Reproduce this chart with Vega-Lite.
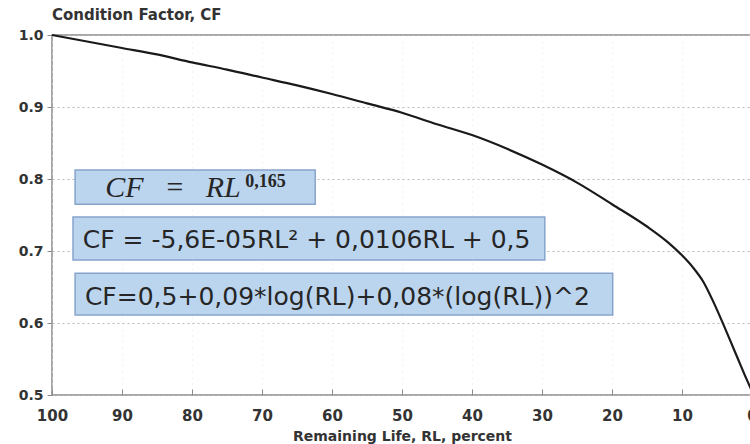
{
  "$schema": "https://vega.github.io/schema/vega-lite/v6.json",
  "width": 700,
  "height": 360,
  "autosize": "none",
  "padding": {"left": 52, "top": 35, "right": 0, "bottom": 49},
  "background": "white",
  "title": {"text": "Condition Factor, CF", "anchor": "start", "frame": "group", "font": "DejaVu Sans", "fontSize": 15, "fontWeight": "bold", "color": "#333333", "offset": 5},
  "config": {
    "view": {"stroke": "#8a8a8a", "strokeWidth": 1.5},
    "axis": {"domain": false, "labelFont": "DejaVu Sans", "labelFontWeight": "bold", "labelColor": "#333333", "titleFont": "DejaVu Sans", "titleFontWeight": "bold", "titleColor": "#333333", "tickColor": "#8a8a8a", "labelFlush": false}
  },
  "datasets": {
    "curve": [
      {"rl": 100, "cf": 1.0}, {"rl": 95, "cf": 0.991}, {"rl": 90, "cf": 0.982}, {"rl": 85, "cf": 0.973},
      {"rl": 80, "cf": 0.962}, {"rl": 75, "cf": 0.952}, {"rl": 70, "cf": 0.941}, {"rl": 65, "cf": 0.930},
      {"rl": 60, "cf": 0.918}, {"rl": 55, "cf": 0.905}, {"rl": 50, "cf": 0.892}, {"rl": 45, "cf": 0.876},
      {"rl": 40, "cf": 0.861}, {"rl": 35, "cf": 0.842}, {"rl": 30, "cf": 0.820}, {"rl": 25, "cf": 0.795},
      {"rl": 20, "cf": 0.765}, {"rl": 15, "cf": 0.734}, {"rl": 12, "cf": 0.712}, {"rl": 10, "cf": 0.694},
      {"rl": 8.5, "cf": 0.678}, {"rl": 7, "cf": 0.658}, {"rl": 5.5, "cf": 0.629}, {"rl": 4, "cf": 0.596},
      {"rl": 3, "cf": 0.573}, {"rl": 2, "cf": 0.550}, {"rl": 1, "cf": 0.527}, {"rl": 0, "cf": 0.505}
    ],
    "boxes": [
      {"rl": 96.7, "rl2": 62.4, "cf": 0.8125, "cf2": 0.765},
      {"rl": 97.0, "rl2": 29.6, "cf": 0.7472, "cf2": 0.6875},
      {"rl": 96.7, "rl2": 19.9, "cf": 0.669, "cf2": 0.611}
    ],
    "eq1": [{"rl": 92.4, "cf": 0.775, "label": "CF\u2002\u2009=\u2002\u2009RL"}],
    "eq1sup": [{"rl": 72.4, "cf": 0.789, "label": "0,165"}],
    "eq2": [{"rl": 95.6, "cf": 0.7042, "label": "CF = -5,6E-05RL\u00b2 + 0,0106RL + 0,5"}],
    "eq3": [{"rl": 95.3, "cf": 0.625, "label": "CF=0,5+0,09*log(RL)+0,08*(log(RL))^2"}]
  },
  "layer": [
    {
      "data": {"name": "boxes"},
      "mark": {"type": "rect", "fill": "#bcd5ee", "stroke": "#86a4cb", "strokeWidth": 1.5},
      "encoding": {
        "x": {"field": "rl", "type": "quantitative", "scale": {"domain": [100, 0], "nice": false},
          "axis": {"values": [100, 90, 80, 70, 60, 50, 40, 30, 20, 10, 0], "title": "Remaining Life, RL, percent", "labelFontSize": 15, "titleFontSize": 14, "tickSize": -6, "labelPadding": 19, "titlePadding": 6, "grid": true, "gridColor": "#e4e4e4", "gridDash": [1, 5]}},
        "x2": {"field": "rl2"},
        "y": {"field": "cf", "type": "quantitative", "scale": {"domain": [0.5, 1.0], "nice": false, "zero": false},
          "axis": {"values": [0.5, 0.6, 0.7, 0.8, 0.9, 1.0], "format": ".1f", "title": null, "labelFontSize": 14, "tickSize": 5, "labelPadding": 4, "grid": true, "gridColor": "#b8b8b8", "gridDash": [2, 3]}},
        "y2": {"field": "cf2"}
      }
    },
    {
      "data": {"name": "curve"},
      "mark": {"type": "line", "color": "#1a1a1a", "strokeWidth": 2.2, "interpolate": "monotone"},
      "encoding": {
        "x": {"field": "rl", "type": "quantitative"},
        "y": {"field": "cf", "type": "quantitative"}
      }
    },
    {
      "data": {"name": "eq1"},
      "mark": {"type": "text", "font": "Liberation Serif", "fontStyle": "italic", "fontSize": 30, "align": "left", "baseline": "alphabetic", "color": "#262626"},
      "encoding": {"x": {"field": "rl", "type": "quantitative"}, "y": {"field": "cf", "type": "quantitative"}, "text": {"field": "label"}}
    },
    {
      "data": {"name": "eq1sup"},
      "mark": {"type": "text", "font": "Liberation Serif", "fontSize": 18, "fontWeight": "bold", "align": "left", "baseline": "alphabetic", "color": "#262626"},
      "encoding": {"x": {"field": "rl", "type": "quantitative"}, "y": {"field": "cf", "type": "quantitative"}, "text": {"field": "label"}}
    },
    {
      "data": {"name": "eq2"},
      "mark": {"type": "text", "font": "DejaVu Sans", "fontSize": 25, "align": "left", "baseline": "alphabetic", "color": "#262626"},
      "encoding": {"x": {"field": "rl", "type": "quantitative"}, "y": {"field": "cf", "type": "quantitative"}, "text": {"field": "label"}}
    },
    {
      "data": {"name": "eq3"},
      "mark": {"type": "text", "font": "DejaVu Sans", "fontSize": 25, "align": "left", "baseline": "alphabetic", "color": "#262626"},
      "encoding": {"x": {"field": "rl", "type": "quantitative"}, "y": {"field": "cf", "type": "quantitative"}, "text": {"field": "label"}}
    }
  ]
}
